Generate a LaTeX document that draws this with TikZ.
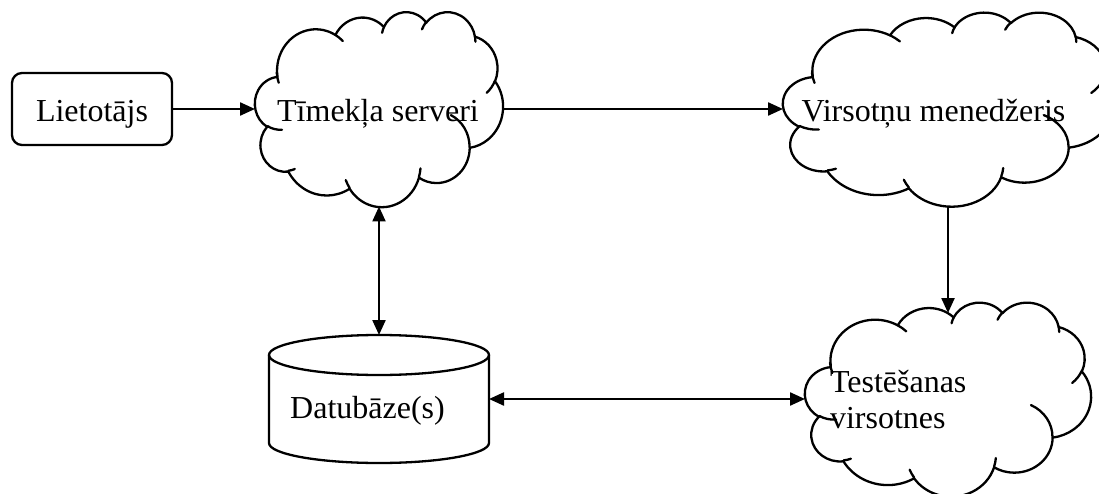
\documentclass[tikz,border=0pt]{standalone}
\usepackage{fontspec}
\setmainfont{Liberation Serif}
\usetikzlibrary{arrows.meta}

% Elliptical arc given by radii, visual start angle and sweep (y axis pointing down)
\tikzset{
  oarc/.style n args={4}{
    start angle/.evaluated={-vang(#1,#2,#3)},
    delta angle/.evaluated={-mod(vang(#1,#2,#3+#4)-vang(#1,#2,#3)+720,360)},
    x radius/.evaluated={#1*\csx},
    y radius/.evaluated={#2*\csy}},
  shapeline/.style={line width=2.3pt, line join=round, line cap=round},
  box/.style={inner sep=0pt, outer sep=0pt},
  lbl/.style={inner sep=0pt, outer sep=0pt},
  userbox/.style={draw, shapeline, rounded corners=10pt, inner sep=0pt,
    minimum width=160pt, minimum height=72pt, text height=25pt, text depth=0pt},
  arr/.style={line width=2.3pt, -{Triangle[length=15pt, width=13pt]}},
  darr/.style={line width=2.3pt, {Triangle[length=15pt, width=13pt]}-{Triangle[length=15pt, width=13pt]}},
}

% Cloud outline fitted into the box of node #1 (width #2, height #3);
% path units: the box is 432 x 432
\newcommand\cloudshape[3]{%
  \pgfmathsetmacro\csx{#2/432}%
  \pgfmathsetmacro\csy{#3/432}%
  \begin{scope}[shift={(#1.north west)}]
  \draw[shapeline] (39.00*\csx,-143.70*\csy)
    arc[oarc={67.53}{91.90}{-190.48748}{123.78053}]
    arc[oarc={53.33}{72.67}{-144.10238}{89.94523}]
    arc[oarc={43.65}{59.45}{-145.80792}{99.72302}]
    arc[oarc={48.57}{65.95}{-130.98607}{117.24173}]
    arc[oarc={53.33}{72.73}{-78.70888}{109.02692}]
    arc[oarc={67.75}{92.20}{-46.26725}{130.269}]
    arc[oarc={57.85}{78.67}{0.62502}{114.03333}]
    arc[oarc={67.52}{92.15}{22.4516}{115.17255}]
    arc[oarc={77.20}{105.43}{66.24263}{75.71102}]
    arc[oarc={43.60}{59.18}{-274.94208}{146.73557}]
    arc[oarc={43.45}{59.45}{-246.8285}{152.51885}]
    -- cycle;
  \draw[shapeline]
    (46.93*\csx,-261.77*\csy) arc[oarc={43.45}{59.45}{86.742}{26.4295}]
    (69.28*\csx,-348.99*\csy) arc[oarc={43.60}{59.18}{73.61047}{11.44747}]
    (164.78*\csx,-390.90*\csy) arc[oarc={67.52}{92.15}{137.62415}{14.0811}]
    (288.27*\csx,-347.51*\csy) arc[oarc={67.52}{92.15}{6.45327}{15.99835}]
    (341.29*\csx,-229.54*\csy) arc[oarc={57.85}{78.67}{-70.29235}{70.91737}]
    (417.98*\csx,-153.54*\csy) arc[oarc={53.33}{72.73}{30.31803}{27.7515}]
    (383.24*\csx,-54.26*\csy) arc[oarc={48.57}{65.95}{-13.74433}{14.85375}]
    (290.78*\csx,-39.52*\csy) arc[oarc={48.57}{65.95}{-149.18145}{18.19297}]
    (221.41*\csx,-47.20*\csy) arc[oarc={43.65}{59.45}{-163.49427}{17.68438}]
    (140.00*\csx,-51.92*\csy) arc[oarc={67.53}{91.90}{-66.70695}{12.31935}]
    (41.27*\csx,-157.89*\csy) arc[oarc={67.53}{91.90}{155.10468}{19.07542}];
  \end{scope}}

\begin{document}
\begin{tikzpicture}[x=1pt, y=1pt,
  declare function={vang(\a,\b,\c)=atan2(\a*sin(\c),\b*cos(\c));},
  every node/.append style={font=\fontsize{32}{36}\selectfont}]
\path[use as bounding box, clip] (0,0) rectangle (1099,493);

% boxes of the shapes
\node[userbox] (user) at (92,384) {Lietotājs};
\node[box, minimum width=248pt, minimum height=195pt] (tw) at (379,384) {};
\node[box, minimum width=330pt, minimum height=194pt] (vm) at (948,384) {};
\node[box, minimum width=286pt, minimum height=194pt] (vt) at (948,94) {};
\node[box, minimum width=220pt, minimum height=128pt] (db) at (379,94) {};
\coordinate (vttop) at ([yshift=-11pt]vt.north);

% clouds
\cloudshape{tw}{248}{195}
\cloudshape{vm}{330}{194}
\cloudshape{vt}{286}{194}

% database cylinder
\draw[shapeline] ([yshift=-20pt]db.north west) -- ([yshift=20pt]db.south west)
  arc[start angle=180, end angle=360, x radius=110, y radius=20]
  -- ([yshift=-20pt]db.north east);
\draw[shapeline] ([yshift=-20pt]db.north) ellipse[x radius=110, y radius=20];

% labels
\node[lbl, anchor=base] (twl) at (378,371) {Tīmekļa serveri};
\node[lbl, anchor=base] (vml) at (933.5,371) {Virsotņu menedžeris};
\node[lbl, anchor=base] (dbl) at (367.5,75) {Datubāze(s)};
\node[lbl, anchor=base west] (vtl1) at (830,101) {Testēšanas};
\node[lbl, anchor=base west] (vtl2) at (830,65) {virsotnes};

% connectors
\draw[arr] (user.east) -- (tw.west);
\draw[arr] (tw.east) -- (vm.west);
\draw[arr] (vm.south) -- (vttop);
\draw[darr] (tw.south) -- (db.north);
\draw[darr] (db.east) -- (vt.west);
\end{tikzpicture}
\end{document}
